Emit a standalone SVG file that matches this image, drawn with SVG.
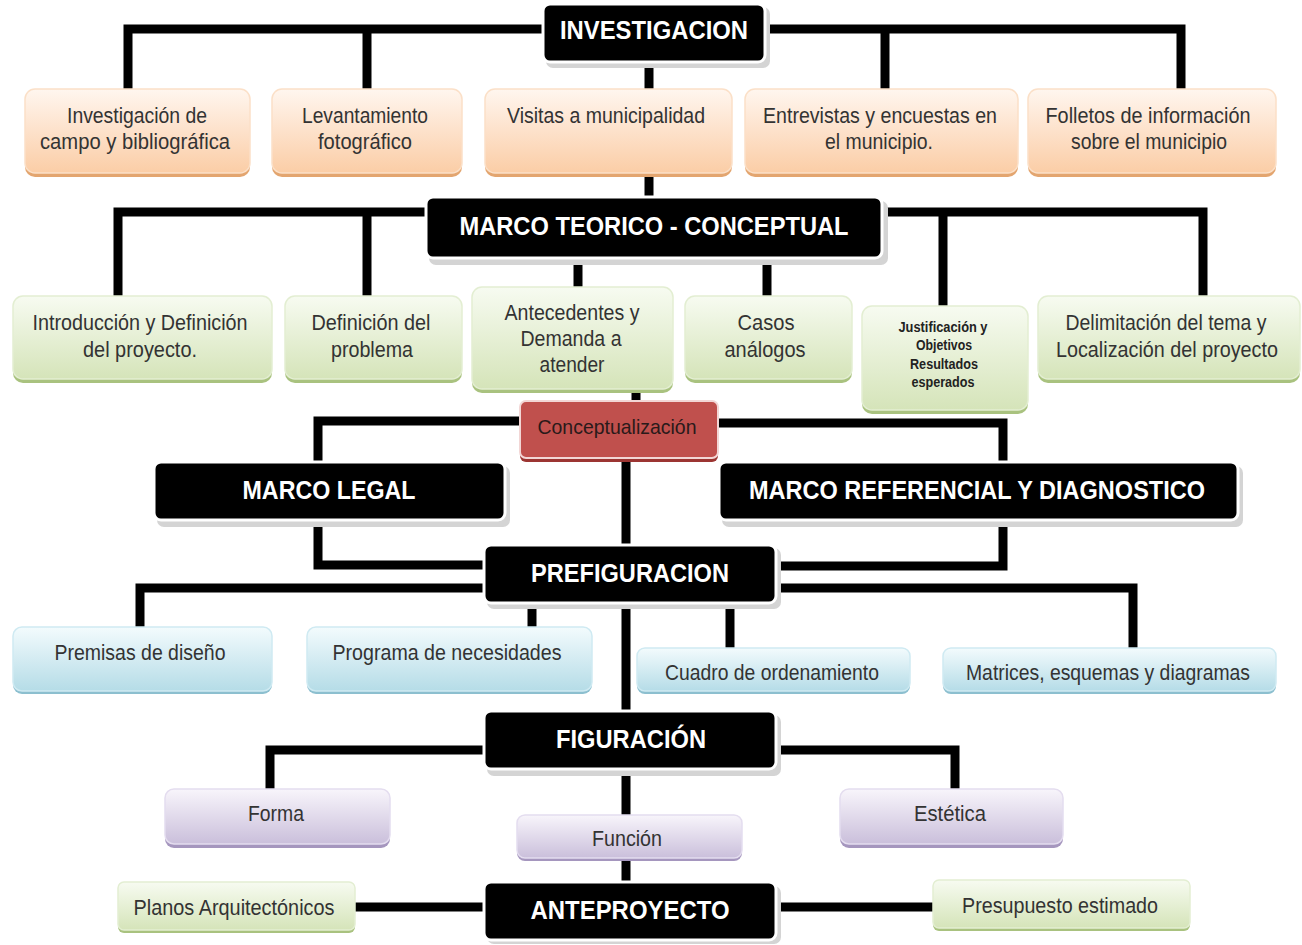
<svg xmlns="http://www.w3.org/2000/svg" width="1302" height="945" viewBox="0 0 1302 945">
<defs>
<linearGradient id="gPeach" x1="0" y1="0" x2="0" y2="1"><stop offset="0" stop-color="#fff6ef"/><stop offset="1" stop-color="#fbcda6"/></linearGradient>
<linearGradient id="gGreen" x1="0" y1="0" x2="0" y2="1"><stop offset="0" stop-color="#f7fbf1"/><stop offset="1" stop-color="#d5e4b9"/></linearGradient>
<linearGradient id="gBlue" x1="0" y1="0" x2="0" y2="1"><stop offset="0" stop-color="#f3fbfd"/><stop offset="1" stop-color="#b5dce7"/></linearGradient>
<linearGradient id="gPurple" x1="0" y1="0" x2="0" y2="1"><stop offset="0" stop-color="#f8f5fb"/><stop offset="1" stop-color="#cabfdb"/></linearGradient>
</defs>
<style>
.con path{fill:none;stroke:#000;stroke-width:9;stroke-linejoin:miter}
.bk .sh{fill:#d4d4d4}
.bk .bd{fill:#000;stroke:#fff;stroke-width:3}
.bk text{font-family:"Liberation Sans",Arial,sans-serif;font-weight:bold;font-size:26px;fill:#fff;text-anchor:middle}
.nd text{font-family:"Liberation Sans",Arial,sans-serif;font-size:22px;fill:#333;text-anchor:middle}
.pe .sh{fill:#e3a56f}.pe .bd{fill:url(#gPeach);stroke:#fbe0c8;stroke-width:1.5}
.gr .sh{fill:#a9c27f}.gr .bd{fill:url(#gGreen);stroke:#e3eed2;stroke-width:1.5}
.bl .sh{fill:#8cbfcf}.bl .bd{fill:url(#gBlue);stroke:#cfeaf2;stroke-width:1.5}
.pu .sh{fill:#a596be}.pu .bd{fill:url(#gPurple);stroke:#e4ddef;stroke-width:1.5}
.rd .sh{fill:#9c3532}.rd .bd{fill:#c0504d;stroke:#f2d6d5;stroke-width:2}
</style>
<rect width="1302" height="945" fill="#fff"/>
<g class="con">
<path d="M545,29 H128 V90"/>
<path d="M367,29 V90"/>
<path d="M765,29 H1181 V90"/>
<path d="M885,29 V90"/>
<path d="M649,62 V90"/>
<path d="M649,175 V198"/>
<path d="M428,212 H118 V297"/>
<path d="M367,212 V297"/>
<path d="M882,212 H1203 V297"/>
<path d="M943,212 V307"/>
<path d="M578,258 V288"/>
<path d="M767,258 V297"/>
<path d="M636,390 V402"/>
<path d="M520,421 H318 V463"/>
<path d="M718,423 H1003 V463"/>
<path d="M626,460 V545"/>
<path d="M318,520 V565 H485"/>
<path d="M1003,520 V566 H775"/>
<path d="M485,588 H140 V627"/>
<path d="M775,588 H1133 V648"/>
<path d="M532,603 V627"/>
<path d="M730,603 V648"/>
<path d="M626,603 V712"/>
<path d="M485,750 H270 V790"/>
<path d="M776,750 H955 V790"/>
<path d="M626,770 V815"/>
<path d="M626,858 V883"/>
<path d="M355,907 H485"/>
<path d="M776,907 H933"/>
</g>
<g id="investigacion" class="bk"><rect class="sh" x="546" y="7" width="224" height="61" rx="7"/><rect class="bd" x="543" y="4" width="222" height="58" rx="7"/><text x="654" y="39" textLength="188" lengthAdjust="spacingAndGlyphs">INVESTIGACION</text></g>
<g id="inv-campo" class="nd pe"><rect class="sh" x="25" y="93" width="225" height="84" rx="10"/><rect class="bd" x="25" y="89" width="225" height="84" rx="10"/><text x="137" y="123" textLength="140" lengthAdjust="spacingAndGlyphs">Investigación de</text><text x="135" y="149" textLength="190" lengthAdjust="spacingAndGlyphs">campo y bibliográfica</text></g>
<g id="levantamiento" class="nd pe"><rect class="sh" x="272" y="93" width="190" height="84" rx="10"/><rect class="bd" x="272" y="89" width="190" height="84" rx="10"/><text x="365" y="123" textLength="126" lengthAdjust="spacingAndGlyphs">Levantamiento</text><text x="365" y="149" textLength="94" lengthAdjust="spacingAndGlyphs">fotográfico</text></g>
<g id="visitas" class="nd pe"><rect class="sh" x="485" y="93" width="247" height="84" rx="10"/><rect class="bd" x="485" y="89" width="247" height="84" rx="10"/><text x="606" y="123" textLength="198" lengthAdjust="spacingAndGlyphs">Visitas a municipalidad</text></g>
<g id="entrevistas" class="nd pe"><rect class="sh" x="745" y="93" width="273" height="84" rx="10"/><rect class="bd" x="745" y="89" width="273" height="84" rx="10"/><text x="880" y="123" textLength="234" lengthAdjust="spacingAndGlyphs">Entrevistas y encuestas en</text><text x="879" y="149" textLength="108" lengthAdjust="spacingAndGlyphs">el municipio.</text></g>
<g id="folletos" class="nd pe"><rect class="sh" x="1028" y="93" width="248" height="84" rx="10"/><rect class="bd" x="1028" y="89" width="248" height="84" rx="10"/><text x="1148" y="123" textLength="205" lengthAdjust="spacingAndGlyphs">Folletos de información</text><text x="1149" y="149" textLength="156" lengthAdjust="spacingAndGlyphs">sobre el municipio</text></g>
<g id="marco-teorico" class="bk"><rect class="sh" x="429" y="201" width="459" height="64" rx="7"/><rect class="bd" x="426" y="197" width="456" height="61" rx="7"/><text x="654" y="235" textLength="389" lengthAdjust="spacingAndGlyphs">MARCO TEORICO - CONCEPTUAL</text></g>
<g id="introduccion" class="nd gr"><rect class="sh" x="13" y="300" width="259" height="83" rx="10"/><rect class="bd" x="13" y="296" width="259" height="83" rx="10"/><text x="140" y="330" textLength="215" lengthAdjust="spacingAndGlyphs">Introducción y Definición</text><text x="140" y="357" textLength="114" lengthAdjust="spacingAndGlyphs">del proyecto.</text></g>
<g id="definicion" class="nd gr"><rect class="sh" x="285" y="300" width="177" height="83" rx="10"/><rect class="bd" x="285" y="296" width="177" height="83" rx="10"/><text x="371" y="330" textLength="119" lengthAdjust="spacingAndGlyphs">Definición del</text><text x="372" y="357" textLength="82" lengthAdjust="spacingAndGlyphs">problema</text></g>
<g id="antecedentes" class="nd gr"><rect class="sh" x="472" y="291" width="201" height="102" rx="10"/><rect class="bd" x="472" y="287" width="201" height="102" rx="10"/><text x="572" y="320" textLength="135" lengthAdjust="spacingAndGlyphs">Antecedentes y</text><text x="571" y="346" textLength="101" lengthAdjust="spacingAndGlyphs">Demanda a</text><text x="572" y="372" textLength="65" lengthAdjust="spacingAndGlyphs">atender</text></g>
<g id="casos" class="nd gr"><rect class="sh" x="685" y="300" width="167" height="83" rx="10"/><rect class="bd" x="685" y="296" width="167" height="83" rx="10"/><text x="766" y="330" textLength="57" lengthAdjust="spacingAndGlyphs">Casos</text><text x="765" y="357" textLength="81" lengthAdjust="spacingAndGlyphs">análogos</text></g>
<g id="justificacion" class="nd gr"><rect class="sh" x="862" y="310" width="166" height="104" rx="10"/><rect class="bd" x="862" y="306" width="166" height="104" rx="10"/><text x="943" y="332" style="font-size:14px;font-weight:bold;fill:#222" textLength="89" lengthAdjust="spacingAndGlyphs">Justificación y</text><text x="944" y="350" style="font-size:14px;font-weight:bold;fill:#222" textLength="56" lengthAdjust="spacingAndGlyphs">Objetivos</text><text x="944" y="369" style="font-size:14px;font-weight:bold;fill:#222" textLength="68" lengthAdjust="spacingAndGlyphs">Resultados</text><text x="943" y="387" style="font-size:14px;font-weight:bold;fill:#222" textLength="63" lengthAdjust="spacingAndGlyphs">esperados</text></g>
<g id="delimitacion" class="nd gr"><rect class="sh" x="1038" y="300" width="262" height="83" rx="10"/><rect class="bd" x="1038" y="296" width="262" height="83" rx="10"/><text x="1166" y="330" textLength="201" lengthAdjust="spacingAndGlyphs">Delimitación del tema y</text><text x="1167" y="357" textLength="222" lengthAdjust="spacingAndGlyphs">Localización del proyecto</text></g>
<g id="conceptualizacion" class="nd rd"><rect class="sh" x="520" y="404" width="198" height="58" rx="6"/><rect class="bd" x="520" y="401" width="198" height="57" rx="6"/><text x="617" y="434" style="font-size:21px;fill:#2a1a1a" textLength="159" lengthAdjust="spacingAndGlyphs">Conceptualización</text></g>
<g id="marco-legal" class="bk"><rect class="sh" x="157" y="466" width="353" height="61" rx="7"/><rect class="bd" x="154" y="462" width="351" height="58" rx="7"/><text x="329" y="499" textLength="173" lengthAdjust="spacingAndGlyphs">MARCO LEGAL</text></g>
<g id="marco-referencial" class="bk"><rect class="sh" x="722" y="466" width="521" height="61" rx="7"/><rect class="bd" x="719" y="462" width="519" height="58" rx="7"/><text x="977" y="499" textLength="456" lengthAdjust="spacingAndGlyphs">MARCO REFERENCIAL Y DIAGNOSTICO</text></g>
<g id="prefiguracion" class="bk"><rect class="sh" x="487" y="548" width="294" height="61" rx="7"/><rect class="bd" x="484" y="545" width="292" height="58" rx="7"/><text x="630" y="582" textLength="198" lengthAdjust="spacingAndGlyphs">PREFIGURACION</text></g>
<g id="premisas" class="nd bl"><rect class="sh" x="13" y="630" width="259" height="64" rx="9"/><rect class="bd" x="13" y="627" width="259" height="64" rx="9"/><text x="140" y="660" textLength="171" lengthAdjust="spacingAndGlyphs">Premisas de diseño</text></g>
<g id="programa" class="nd bl"><rect class="sh" x="307" y="630" width="285" height="64" rx="9"/><rect class="bd" x="307" y="627" width="285" height="64" rx="9"/><text x="447" y="660" textLength="229" lengthAdjust="spacingAndGlyphs">Programa de necesidades</text></g>
<g id="cuadro" class="nd bl"><rect class="sh" x="637" y="651" width="273" height="43" rx="8"/><rect class="bd" x="637" y="648" width="273" height="43" rx="8"/><text x="772" y="680" textLength="214" lengthAdjust="spacingAndGlyphs">Cuadro de ordenamiento</text></g>
<g id="matrices" class="nd bl"><rect class="sh" x="943" y="651" width="333" height="43" rx="8"/><rect class="bd" x="943" y="648" width="333" height="43" rx="8"/><text x="1108" y="680" textLength="284" lengthAdjust="spacingAndGlyphs">Matrices, esquemas y diagramas</text></g>
<g id="figuracion" class="bk"><rect class="sh" x="487" y="715" width="294" height="61" rx="7"/><rect class="bd" x="484" y="711" width="292" height="58" rx="7"/><text x="631" y="748" textLength="150" lengthAdjust="spacingAndGlyphs">FIGURACIÓN</text></g>
<g id="forma" class="nd pu"><rect class="sh" x="165" y="793" width="225" height="55" rx="9"/><rect class="bd" x="165" y="789" width="225" height="55" rx="9"/><text x="276" y="821" textLength="56" lengthAdjust="spacingAndGlyphs">Forma</text></g>
<g id="funcion" class="nd pu"><rect class="sh" x="517" y="818" width="225" height="43" rx="8"/><rect class="bd" x="517" y="815" width="225" height="43" rx="8"/><text x="627" y="846" textLength="70" lengthAdjust="spacingAndGlyphs">Función</text></g>
<g id="estetica" class="nd pu"><rect class="sh" x="840" y="793" width="223" height="55" rx="9"/><rect class="bd" x="840" y="789" width="223" height="55" rx="9"/><text x="950" y="821" textLength="72" lengthAdjust="spacingAndGlyphs">Estética</text></g>
<g id="anteproyecto" class="bk"><rect class="sh" x="487" y="886" width="294" height="58" rx="7"/><rect class="bd" x="484" y="882" width="292" height="58" rx="7"/><text x="630" y="919" textLength="199" lengthAdjust="spacingAndGlyphs">ANTEPROYECTO</text></g>
<g id="planos" class="nd gr"><rect class="sh" x="118" y="885" width="237" height="48" rx="6"/><rect class="bd" x="118" y="882" width="237" height="48" rx="6"/><text x="234" y="915" textLength="201" lengthAdjust="spacingAndGlyphs">Planos Arquitectónicos</text></g>
<g id="presupuesto" class="nd gr"><rect class="sh" x="933" y="883" width="257" height="48" rx="6"/><rect class="bd" x="933" y="880" width="257" height="48" rx="6"/><text x="1060" y="913" textLength="196" lengthAdjust="spacingAndGlyphs">Presupuesto estimado</text></g>
</svg>
